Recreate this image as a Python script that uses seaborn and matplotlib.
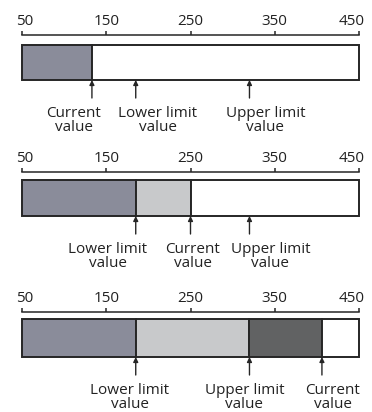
import matplotlib
matplotlib.use('Agg')
import matplotlib.pyplot as plt
import matplotlib.transforms as mtransforms
import seaborn as sns

sns.set_theme(style='white')
plt.rcParams['font.family'] = ['Open Sans', 'DejaVu Sans']

# scale
ticks = [50, 150, 250, 350, 450]
x_min, x_max = 50, 450

# segment boundaries of each bar
bounds_1 = [50, 133, 450]
bounds_2 = [50, 185, 250, 450]
bounds_3 = [50, 185, 320, 406, 450]

# segment colours
colors_1 = ['#8a8c9a', '#ffffff']
colors_2 = ['#8a8c9a', '#c8c9cb', '#ffffff']
colors_3 = ['#8a8c9a', '#c8c9cb', '#616263', '#ffffff']

# arrow markers under each bar
marks_1 = [133, 185, 320]
labels_1 = ['Current\nvalue', 'Lower limit\nvalue', 'Upper limit\nvalue']
marks_2 = [185, 250, 320]
labels_2 = ['Lower limit\nvalue', 'Current\nvalue', 'Upper limit\nvalue']
marks_3 = [185, 320, 406]
labels_3 = ['Lower limit\nvalue', 'Upper limit\nvalue', 'Current\nvalue']

W, H = 372, 412
fig = plt.figure(figsize=(W / 100, H / 100), dpi=100)

# bar top / bottom in pixels, axis line offset in pixels, label shifts in pixels
layout = [
    (44.7, 80, 9.5, [-18, 22, 16]),
    (180, 216, 8, [-28, 2, 21]),
    (319, 357, 7, [-6, -5, 11]),
]
left_px, right_px = 22, 359
PT = 0.72  # points per pixel

panels = [
    (bounds_1, colors_1, marks_1, labels_1),
    (bounds_2, colors_2, marks_2, labels_2),
    (bounds_3, colors_3, marks_3, labels_3),
]

for (bounds, colors, marks, labels), (top, bot, off, shifts) in zip(panels, layout):
    ax = fig.add_axes([left_px / W, 1 - bot / H, (right_px - left_px) / W, (bot - top) / H])
    ax.set_facecolor('none')
    for i, c in enumerate(colors):
        ax.barh(0, bounds[i + 1] - bounds[i], left=bounds[i], height=1,
                color=c, edgecolor='#262626', linewidth=1.4, clip_on=False)
    ax.set_xlim(x_min, x_max)
    ax.set_ylim(-0.5, 0.5)
    ax.set_yticks([])

    for s in ['left', 'right', 'bottom']:
        ax.spines[s].set_visible(False)
    ax.spines['top'].set_position(('outward', off * PT))
    ax.spines['top'].set_color('#262626')
    ax.spines['top'].set_linewidth(1.1)
    ax.xaxis.tick_top()
    ax.set_xticks(ticks)
    ax.set_xticklabels([str(t) for t in ticks])
    ax.tick_params(axis='x', top=True, bottom=False, direction='out', length=3,
                   width=1.1, color='#262626', pad=1.5, labelsize=11, labelcolor='#222222')
    tl = ax.get_xticklabels()
    tl[0].set_transform(tl[0].get_transform() + mtransforms.ScaledTranslation(2.5 / 100, 0, fig.dpi_scale_trans))
    tl[-1].set_transform(tl[-1].get_transform() + mtransforms.ScaledTranslation(-7 / 100, 0, fig.dpi_scale_trans))

    for v, lab, dx in zip(marks, labels, shifts):
        ax.annotate('', xy=(v, 0), xycoords=('data', 'axes fraction'),
                    xytext=(0, -18 * PT), textcoords='offset points',
                    arrowprops=dict(arrowstyle='-|>', color='#262626', lw=1,
                                    mutation_scale=7, shrinkA=0, shrinkB=0))
        ax.annotate(lab, xy=(v, 0), xycoords=('data', 'axes fraction'),
                    xytext=(dx * PT, -26 * PT), textcoords='offset points',
                    ha='center', va='top', fontsize=11, color='#222222',
                    linespacing=0.95)

fig.savefig('out.png', dpi=100)
